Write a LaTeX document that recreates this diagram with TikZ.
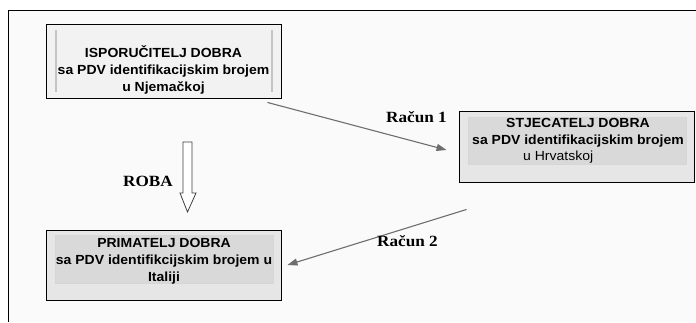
\documentclass[tikz,border=0pt]{standalone}
\usepackage{fontspec}
\setmainfont{Liberation Serif}
\newfontfamily\boxfont[FakeStretch=1.06]{Liberation Sans}
\newfontfamily\labfont[FakeStretch=1.1]{Liberation Serif}
\usetikzlibrary{arrows.meta,positioning}
\definecolor{bgc}{HTML}{FAFAFA}
\definecolor{boxa}{HTML}{F2F2F2}
\definecolor{boxb}{HTML}{E6E6E6}
\definecolor{boxin}{HTML}{D9D9D9}
\definecolor{inline}{HTML}{C4C4C4}
\definecolor{arrc}{HTML}{6E6E6E}
\tikzset{
  outerbox/.style={draw=black, line width=0.9pt, rectangle, inner sep=0pt},
  innerbox/.style={draw=inline!70, line width=0.6pt, fill=boxin, rectangle, inner sep=0pt},
  boxtext/.style={font=\boxfont\bfseries\fontsize{13.2}{16.8}\selectfont, align=center, inner sep=0pt},
  labtext/.style={font=\labfont\bfseries\fontsize{15.6}{17}\selectfont, inner sep=0pt},
  conn/.style={draw=arrc, line width=1.1pt, -{Triangle[length=10pt,width=7pt]}},
}
\begin{document}
\begin{tikzpicture}[x=1pt,y=-1pt]
\useasboundingbox (0,0) rectangle (696,322);
% frame
\fill[bgc] (8,10) rectangle (696,322);
\draw[black, line width=1pt] (696,10) -- (8,10) -- (8,322);
% box 1
\node[outerbox, fill=boxa, minimum width=235pt, minimum height=74pt] (isp) at (163.5,61) {};
\draw[inline, line width=1.5pt] (56,30) -- (56,92) (272,30) -- (272,92);
\node[boxtext] (isptxt) at (163.5,70) {ISPORUČITELJ DOBRA\\sa PDV identifikacijskim brojem\\u Njemačkoj};
% box 2
\node[outerbox, fill=boxb, minimum width=235pt, minimum height=71pt] (stj) at (576.5,146.5) {};
\node[innerbox, minimum width=218pt, minimum height=47pt] (stjin) at (577,140.5) {};
\node[boxtext] (stjtxt) at (578,132.5) {STJECATELJ DOBRA\\sa PDV identifikacijskim brojem};
\node[font=\boxfont\fontsize{13.2}{16.8}\selectfont, inner sep=0pt, anchor=west] (stjtxt2) at (523,157) {u Hrvatskoj};
% box 3
\node[outerbox, fill=boxb, minimum width=235pt, minimum height=70pt] (pri) at (163.5,265) {};
\node[innerbox, minimum width=218pt, minimum height=48pt] (priin) at (164,259) {};
\node[boxtext] (pritxt) at (164,261) {PRIMATELJ DOBRA\\sa PDV identifikcijskim brojem u\\Italiji};
% ROBA arrow
\draw[black!75, line width=0.8pt, fill=white] (183,142) -- (192,142) -- (192,193) -- (196,193) -- (187.5,212) -- (180,193) -- (183,193) -- cycle;
\node[labtext] (roba) at (148,181) {ROBA};
% connectors
\coordinate (r1s) at ([shift={(-14,4)}]isp.south east);
\coordinate (r1e) at ([shift={(-12,3.5)}]stj.west);
\draw[conn] (r1s) -- (r1e);
\node[labtext] (rac1) at (416.5,117) {Račun 1};
\coordinate (r2s) at ([shift={(8,27)}]stj.south west);
\coordinate (r2e) at ([shift={(6,0)}]pri.east);
\draw[conn] (r2s) -- (r2e);
\node[labtext] (rac2) at (407.5,241) {Račun 2};
\end{tikzpicture}
\end{document}
